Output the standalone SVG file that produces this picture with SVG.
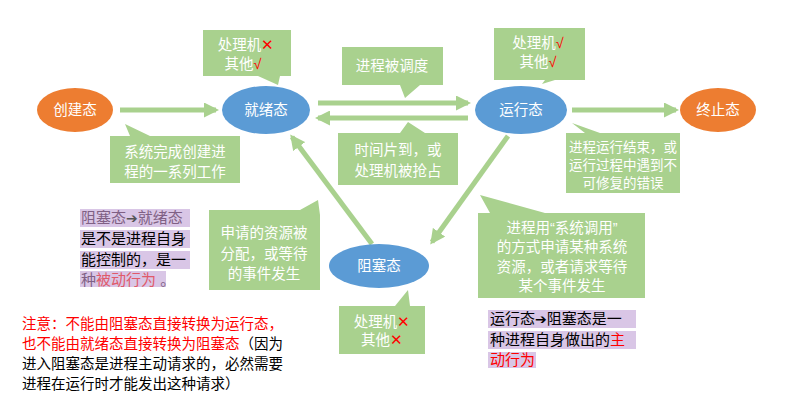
<svg xmlns="http://www.w3.org/2000/svg" width="792" height="417" viewBox="0 0 792 417">
<style>
text{font-family:"Liberation Sans","Noto Sans CJK SC",sans-serif;font-size:14.5px}
.w{fill:#fff;text-anchor:middle}
.c{fill:#A9D18E}
.ln{stroke:#A9D18E;stroke-width:5;fill:none}
.r{fill:#FF0000}
.k{fill:#000}
.hl{fill:#D9C6E6}
.n{font-size:15px}
.s{font-size:13.5px}
.ar{font-family:"DejaVu Sans",sans-serif;font-size:14px}
</style>
<defs>
<marker id="ah" viewBox="0 0 10 10" refX="8" refY="5" markerWidth="3" markerHeight="3" orient="auto"><path d="M0,0L10,5L0,10z" fill="#A9D18E"/></marker>
</defs>
<g id="connectors">
<line class="ln" x1="120" y1="110" x2="216" y2="110" marker-end="url(#ah)"/>
<line class="ln" x1="318" y1="103" x2="468" y2="103" marker-end="url(#ah)"/>
<line class="ln" x1="468" y1="118" x2="318" y2="118" marker-end="url(#ah)"/>
<line class="ln" x1="572" y1="110" x2="676" y2="110" marker-end="url(#ah)"/>
<line class="ln" x1="372" y1="244" x2="292" y2="137" marker-end="url(#ah)"/>
<line class="ln" x1="508" y1="136" x2="432" y2="242" marker-end="url(#ah)"/>
</g>
<g id="n_create"><ellipse cx="75" cy="110" rx="38" ry="22" fill="#ED7D31"/><text class="w" x="75" y="115">创建态</text></g>
<g id="n_ready"><ellipse cx="266" cy="110" rx="44" ry="24" fill="#5B9BD5"/><text class="w" x="266" y="115">就绪态</text></g>
<g id="n_run"><ellipse cx="521" cy="110" rx="46" ry="24" fill="#5B9BD5"/><text class="w" x="521" y="115">运行态</text></g>
<g id="n_end"><ellipse cx="718" cy="110" rx="38" ry="22" fill="#ED7D31"/><text class="w" x="718" y="115">终止态</text></g>
<g id="n_block"><ellipse cx="379" cy="266" rx="50" ry="22" fill="#5B9BD5"/><text class="w" x="379" y="271">阻塞态</text></g>
<g id="c1"><path class="c" d="M203,30H291V76H280L278,85L258,76H203Z"/><text class="w" x="246" y="50">处理机<tspan class="r">✕</tspan></text><text class="w" x="243" y="69">其他<tspan class="r">√</tspan></text></g>
<g id="c2"><path class="c" d="M342,47H443V85H420L405,98L400,85H342Z"/><text class="w" x="392" y="71">进程被调度</text></g>
<g id="c3"><path class="c" d="M494,28H585V80H555L542,84L545,80H494Z"/><text class="w" x="538" y="48">处理机<tspan class="r">√</tspan></text><text class="w" x="538" y="67">其他<tspan class="r">√</tspan></text></g>
<g id="c4"><path class="c" d="M110,136H130L125,124L150,136H240V183H110Z"/><text class="w" x="175" y="157">系统完成创建进</text><text class="w" x="175" y="177">程的一系列工作</text></g>
<g id="c5"><path class="c" d="M338,133H400L408,122L425,133H458V185H338Z"/><text class="w" x="398" y="155">时间片到，或</text><text class="w" x="398" y="176">处理机被抢占</text></g>
<g id="c6"><path class="c" d="M566,133H585L572,123L600,133H680V193H566Z"/><text class="w s" x="623" y="152">进程运行结束，或</text><text class="w s" x="623" y="170">运行过程中遇到不</text><text class="w s" x="623" y="188">可修复的错误</text></g>
<g id="c7"><path class="c" d="M209,210H300L318,200L320,215V290H209Z"/><text class="w" x="264" y="238">申请的资源被</text><text class="w" x="264" y="259">分配，或等待</text><text class="w" x="264" y="279">的事件发生</text></g>
<g id="c8"><path class="c" d="M478,213H490L480,195L545,213H645V298H478Z"/><text class="w" x="562" y="233">进程用“系统调用”</text><text class="w" x="562" y="252">的方式申请某种系统</text><text class="w" x="562" y="272">资源，或者请求等待</text><text class="w" x="562" y="291">某个事件发生</text></g>
<g id="c9"><path class="c" d="M339,306H395L408,290L410,306H425V354H339Z"/><text class="w" x="382" y="327">处理机<tspan class="r">✕</tspan></text><text class="w" x="382" y="345">其他<tspan class="r">✕</tspan></text></g>
<g id="note1" class="n">
<rect class="hl" x="80" y="209" width="110" height="18"/><rect class="hl" x="80" y="230" width="110" height="18"/><rect class="hl" x="80" y="251" width="110" height="18"/><rect class="hl" x="80" y="271" width="86" height="16"/>
<text x="81" y="223" fill="#7F6084" class="n">阻塞态<tspan class="ar" fill="#555">➔</tspan>就绪态</text>
<text x="81" y="244" class="k n">是不是进程自身</text>
<text x="81" y="265" class="k n">能控制的，是一</text>
<text x="81" y="285" fill="#7F6084" class="n">种<tspan fill="#E05A6A">被动行为</tspan> 。</text>
</g>
<g id="note2">
<text x="22" y="329" class="r">注意：不能由阻塞态直接转换为运行态，</text>
<text x="22" y="349"><tspan class="r">也不能由就绪态直接转换为阻塞态</tspan><tspan class="k">（因为</tspan></text>
<text x="22" y="369" class="k">进入阻塞态是进程主动请求的，必然需要</text>
<text x="22" y="389" class="k">进程在运行时才能发出这种请求）</text>
</g>
<g id="note3">
<rect class="hl" x="488" y="310" width="148" height="18"/><rect class="hl" x="488" y="331" width="148" height="18"/><rect class="hl" x="488" y="352" width="48" height="16"/>
<text x="490" y="324" class="k n">运行态<tspan class="ar">➔</tspan>阻塞态是一</text>
<text x="490" y="345" class="k n">种进程自身做出的<tspan class="r">主</tspan></text>
<text x="490" y="365" class="r n">动行为</text>
</g>
</svg>
